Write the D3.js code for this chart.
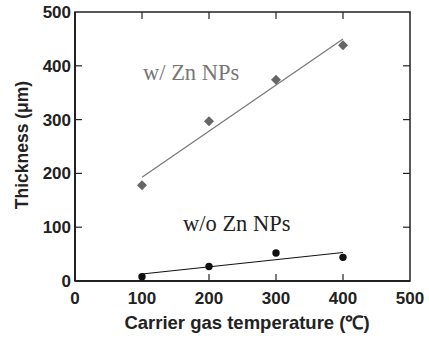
<!DOCTYPE html>
<html>
<head>
<meta charset="utf-8">
<script src="https://cdn.jsdelivr.net/npm/d3@7"></script>
<style>
  body { margin: 0; background: #fff; }
  svg { display: block; }
</style>
</head>
<body>
<svg id="chart" width="429" height="338"></svg>
<script>
// data
const temps = [100, 200, 300, 400];
const withZn = [178, 297, 374, 438];
const withoutZn = [8, 27, 52, 44];
// fitted lines (values at 100 and 400 °C)
const fitX = [100, 400];
const fitWithZn = [193, 450];
const fitWithoutZn = [13, 53];
const ticks = [0, 100, 200, 300, 400, 500];

const svg = d3.select("#chart");
const plotLeft = 75, plotRight = 410, plotTop = 12, plotBottom = 281;

const x = d3.scaleLinear().domain([0, 500]).range([plotLeft, plotRight]);
const y = d3.scaleLinear().domain([0, 500]).range([plotBottom, plotTop]);

const axisColor = "#222";
const tickFont = "'Liberation Sans', Arial, sans-serif";
const serif = "'Liberation Serif', 'Times New Roman', serif";

// frame
svg.append("rect")
  .attr("x", plotLeft).attr("y", plotTop)
  .attr("width", plotRight - plotLeft).attr("height", plotBottom - plotTop)
  .attr("fill", "none").attr("stroke", axisColor).attr("stroke-width", 1.5);
svg.append("line").attr("x1", plotLeft).attr("x2", plotLeft).attr("y1", plotTop).attr("y2", plotBottom)
  .attr("stroke", axisColor).attr("stroke-width", 2);
svg.append("line").attr("x1", plotLeft).attr("x2", plotRight).attr("y1", plotBottom).attr("y2", plotBottom)
  .attr("stroke", axisColor).attr("stroke-width", 2);

// inward ticks on all sides
const tk = 7;
const inner = ticks.filter(d => d > 0 && d < 500);
svg.append("g").selectAll("line").data(inner).join("line")
  .attr("x1", d => x(d)).attr("x2", d => x(d)).attr("y1", plotBottom).attr("y2", plotBottom - tk)
  .attr("stroke", axisColor).attr("stroke-width", 1.2);
svg.append("g").selectAll("line").data(inner).join("line")
  .attr("x1", d => x(d)).attr("x2", d => x(d)).attr("y1", plotTop).attr("y2", plotTop + tk)
  .attr("stroke", axisColor).attr("stroke-width", 1.2);
svg.append("g").selectAll("line").data(inner).join("line")
  .attr("x1", plotLeft).attr("x2", plotLeft + tk).attr("y1", d => y(d)).attr("y2", d => y(d))
  .attr("stroke", axisColor).attr("stroke-width", 1.2);
svg.append("g").selectAll("line").data(inner).join("line")
  .attr("x1", plotRight).attr("x2", plotRight - tk).attr("y1", d => y(d)).attr("y2", d => y(d))
  .attr("stroke", axisColor).attr("stroke-width", 1.2);

// tick labels
svg.append("g").selectAll("text").data(ticks).join("text")
  .attr("x", d => x(d)).attr("y", 304)
  .attr("text-anchor", "middle")
  .attr("font-family", tickFont).attr("font-weight", "bold").attr("font-size", 17)
  .attr("fill", axisColor)
  .text(d => d);
svg.append("g").selectAll("text").data(ticks).join("text")
  .attr("x", 71).attr("y", d => y(d) + 6)
  .attr("text-anchor", "end")
  .attr("font-family", tickFont).attr("font-weight", "bold").attr("font-size", 17)
  .attr("fill", axisColor)
  .text(d => d);

// axis titles
svg.append("text")
  .attr("x", 247).attr("y", 329)
  .attr("text-anchor", "middle")
  .attr("font-family", tickFont).attr("font-weight", "bold").attr("font-size", 18.5)
  .attr("fill", axisColor)
  .text("Carrier gas temperature (℃)");
svg.append("text")
  .attr("transform", "translate(28,145) rotate(-90)")
  .attr("text-anchor", "middle")
  .attr("font-family", tickFont).attr("font-weight", "bold").attr("font-size", 17.5)
  .attr("fill", axisColor)
  .text("Thickness (μm)");

// fit lines
const line = d3.line().x(d => x(d[0])).y(d => y(d[1]));
svg.append("path")
  .attr("d", line(d3.zip(fitX, fitWithZn)))
  .attr("fill", "none").attr("stroke", "#777").attr("stroke-width", 1.2);
svg.append("path")
  .attr("d", line(d3.zip(fitX, fitWithoutZn)))
  .attr("fill", "none").attr("stroke", "#111").attr("stroke-width", 1.2);

// markers
svg.append("g").selectAll("path").data(d3.zip(temps, withZn)).join("path")
  .attr("d", d3.symbol().type(d3.symbolSquare).size(50))
  .attr("transform", d => `translate(${x(d[0])},${y(d[1])}) rotate(45)`)
  .attr("fill", "#666");
svg.append("g").selectAll("circle").data(d3.zip(temps, withoutZn)).join("circle")
  .attr("cx", d => x(d[0])).attr("cy", d => y(d[1]))
  .attr("r", 3.7)
  .attr("fill", "#111");

// series labels
svg.append("text")
  .attr("x", 143).attr("y", 80)
  .attr("font-family", serif).attr("font-size", 22.5)
  .attr("fill", "#777")
  .text("w/ Zn NPs");
svg.append("text")
  .attr("x", 183).attr("y", 231)
  .attr("font-family", serif).attr("font-size", 22.5)
  .attr("fill", "#222")
  .text("w/o Zn NPs");
</script>
</body>
</html>
